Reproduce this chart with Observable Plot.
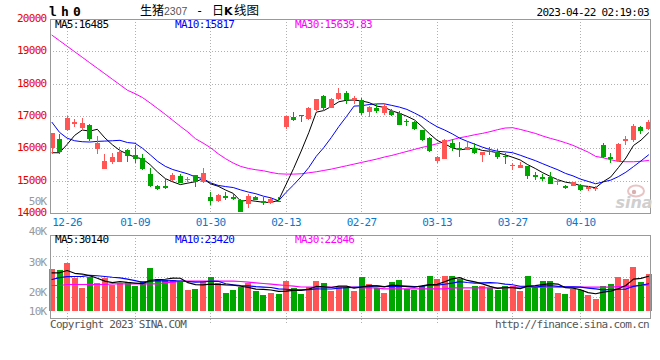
<!DOCTYPE html>
<html><head><meta charset="utf-8">
<script src="https://cdn.jsdelivr.net/npm/d3@7"></script>
<script src="https://cdn.jsdelivr.net/npm/@observablehq/plot@0.6"></script>
<style>
html,body{margin:0;padding:0;background:#fff;}
#chart{position:relative;width:660px;height:360px;overflow:hidden;background:#fff;}
#chart svg{position:absolute;left:0;top:0;max-width:none;}
</style></head><body><div id="chart"></div>
<script>
// ---- data ----
const tickIdx = [2, 11, 21, 31, 41, 51, 61, 70];
const tickLabels = ["12-26","01-09","01-30","02-13","02-27","03-13","03-27","04-10"];
const priceTicks = [20000, 19000, 18000, 17000, 16000, 15000, 14000];
const priceGrid = [15000, 16000, 17000, 18000, 19000];
const volTickValues = [50000, 40000, 30000, 20000];
const volTickLabels = ["50K", "40K", "30K", "20K"];
const volBaseLabel = "10K";
const VOL_BASE = 13870;
const VOL_DOMAIN = [11475, 38690];

const opens = [16024,16292,16582,16767,16644,16737,15993,15373,15580,15590,
15952,15786,15693,15208,14836,14836,15022,15146,15022,15167,
14950,14496,14382,14537,14506,14403,14268,14506,14382,14320,
14382,16674,16984,17015,16912,17191,17624,17253,17521,17707,
17500,17500,17129,17232,17087,17160,17087,16850,16819,16561,
16313,15611,15683,16168,16003,15962,16024,15797,15931,15900,
15745,15446,15404,15466,15167,15105,15105,14960,14847,14847,
14867,14754,14743,16107,15735,15611,16241,16251,16664,16592];
const closes = [16468,15900,16943,16809,16788,16303,16179,15611,15745,15890,
15766,15683,15363,14836,14743,14774,15177,14940,15064,14960,
15239,14382,14568,14475,14444,14031,14527,14413,14320,14423,
14341,17005,16891,16994,17253,17531,17253,17531,17717,17480,
17562,17108,17284,17170,17294,17025,16736,16808,16612,16261,
15910,15724,16261,16003,15951,16044,15848,15900,15879,15724,
15724,15466,15487,15156,15126,15064,14898,14981,14774,14950,
14712,14774,14764,15724,15683,16138,16272,16695,16551,16819];
const highs = [16489,16437,17005,16902,16933,16750,16385,15828,15848,16034,
15972,16107,15817,15384,14867,15074,15229,15208,15126,15188,
15394,14661,14589,14640,14609,14423,14578,14527,14496,14465,
14485,17015,17129,17036,17273,17540,17635,17552,17872,17779,
17624,17552,17315,17356,17356,17211,17160,16901,16860,16571,
16344,15776,16282,16302,16189,16210,16158,15900,16055,15972,
15848,15559,15580,15466,15270,15208,15270,15043,14867,14971,
14888,14847,14836,16169,15869,16179,16385,16768,16706,16891];
const lows = [15817,15828,16551,16654,16571,16241,15817,15360,15528,15580,
15570,15559,15332,14816,14723,14754,15001,14919,14960,14816,
14940,14237,14330,14403,14392,14020,14144,14403,14237,14279,
14330,16612,16860,16829,16881,17170,17170,17232,17500,17376,
17376,17025,16963,17087,17046,17005,16730,16695,16571,16230,
15900,15559,15683,15910,15745,15962,15817,15570,15797,15673,
15508,15342,15384,15064,15022,14991,14898,14867,14754,14826,
14681,14692,14671,15704,15559,15611,16096,16200,16437,16571];
const ma5 = [15879,15879,16137,16416,16582,16549,16604,16338,16125,15946,
15838,15739,15689,15508,15278,15080,14979,14894,14940,14983,
15076,14917,14843,14725,14622,14380,14409,14378,14347,14343,
14405,14900,15396,15931,16497,17135,17184,17312,17457,17502,
17509,17480,17430,17321,17284,17176,17102,17007,16895,16688,
16465,16263,16154,16032,15970,15997,16021,15949,15924,15879,
15815,15739,15656,15511,15392,15260,15146,15045,14969,14933,
14863,14838,14795,14985,15131,15417,15716,16102,16268,16495];
const ma10 = [16819,16509,16330,16250,16220,16210,16230,16240,16250,16264,
16194,16172,16014,15817,15612,15459,15359,15292,15224,15131,
15078,14948,14869,14833,14803,14728,14663,14611,14536,14483,
14393,14655,14887,15139,15420,15770,16042,16354,16694,17000,
17322,17332,17371,17389,17393,17343,17291,17219,17108,16986,
16821,16683,16581,16464,16329,16231,16142,16052,15978,15925,
15906,15880,15803,15718,15636,15538,15443,15351,15240,15163,
15062,14992,14920,14977,15032,15140,15277,15449,15627,15813];
const ma30 = [19514,19344,19174,19003,18833,18662,18492,18322,18151,17981,
17810,17707,17583,17418,17243,17067,16881,16695,16520,16313,
16179,16034,15848,15693,15559,15456,15394,15353,15322,15270,
15229,15218,15218,15228,15259,15290,15332,15373,15425,15476,
15528,15580,15631,15683,15745,15796,15858,15920,15982,16044,
16096,16158,16220,16282,16344,16385,16437,16478,16530,16592,
16643,16654,16602,16540,16478,16396,16324,16262,16189,16107,
16003,15900,15766,15724,15662,15611,15601,15600,15615,15640];
const vols = [27540,27214,29509,24700,21311,24800,23050,24700,22295,23050,
23378,22066,23607,27968,24155,23935,23935,23378,20656,20984,
23705,25017,23050,19780,20656,21738,23050,20426,19115,19780,
19344,23705,21410,19344,21738,23705,22951,20426,21738,21530,
20328,25017,22722,21410,19780,23279,23935,21082,20656,21967,
25345,24263,25345,25345,24155,20656,21967,21967,21410,20656,
21967,21967,20426,25345,21640,23607,23607,19672,19344,21082,
20765,19016,17705,21967,22623,24918,24263,28198,23279,26001];
const vma5 = [26460,26460,27200,26300,26055,25507,24674,23712,23231,23579,
23295,23098,22879,24014,24235,24346,24720,24674,23212,22578,
22532,22748,22682,22507,22442,22048,21655,21130,20997,20822,
20343,20474,20671,20717,21108,21980,21830,21633,22112,22070,
21395,21808,22267,22201,21851,22442,22225,21897,21746,22184,
22597,22663,23515,24453,24891,23953,23494,22818,22031,21331,
21593,21593,21285,22072,22269,22597,22925,22774,21574,21462,
20894,19976,19582,20107,20415,21246,22295,24394,24656,25332];
const vma10 = [24263,24900,25200,25250,25300,25600,25500,25250,25000,24817,
24401,23886,23296,23623,23907,23821,23909,23777,23613,23407,
23439,23734,23678,22860,22510,22290,22202,21906,21752,21632,
21196,21065,20901,20857,20965,21162,21152,21152,21415,21589,
21688,21819,21950,22157,21961,21919,22017,22082,21974,22018,
22520,22444,22706,23100,23538,23275,23079,23167,23242,23111,
22773,22544,22052,22052,21800,22095,22259,22030,21823,21866,
21746,21451,21178,20841,20939,21070,21136,21988,22382,22874];
const vma30 = [22295,22295,22623,22623,22623,22623,22623,22623,22853,22853,
22853,22853,22853,22853,22853,23279,23279,23705,23705,23705,
23705,23705,23705,23705,23705,23600,23378,23160,22951,22730,
22525,22295,22066,21800,21800,21800,21800,21800,21800,21800,
21800,21500,21500,21500,21213,21213,21213,21213,21213,21213,
21213,21213,21213,21500,21500,21500,21500,21500,21500,21500,
21500,21738,21738,21738,21738,21738,21738,21738,21738,21738,
21738,21738,21738,21738,21738,21900,22000,22200,22350,22500];
const mainMaLabels = ["MA5:16485", "MA10:15817", "MA30:15639.83"];
const volMaLabels = ["MA5:30140", "MA10:23420", "MA30:22846"];
const maColors = ["#000000", "#0000ff", "#ff00ff"];
const titleCode = "lh0";
const timeStamp = "2023-04-22 02:19:03";

// ---- build ----
const RED = "#ff5555", GREEN = "#00a600";
const MONO = "DejaVu Sans Mono, monospace";
const N = closes.length;
const candles = d3.range(N).map(i => ({i, o: opens[i], c: closes[i], h: highs[i], l: lows[i], up: closes[i] >= opens[i], v: vols[i]}));
const colorOf = d => d.up ? RED : GREEN;
const xDomain = [-0.2, N - 0.74];
const grid = {stroke: "#b0b0b0", strokeDasharray: "1,2", shapeRendering: "crispEdges"};
const crisp = {shapeRendering: "crispEdges"};
const common = {width: 660, height: 360, marginLeft: 50, marginRight: 10,
  x: {domain: xDomain, axis: null}, color: {type: "identity"},
  style: {background: "transparent", fontFamily: MONO, fontSize: "11px", letterSpacing: "-0.7px", overflow: "visible"}};

const main = Plot.plot({...common, marginTop: 19, marginBottom: 147,
  y: {domain: [14000, 20000], axis: null},
  marks: [
    Plot.ruleY(priceGrid, grid),
    Plot.ruleX(tickIdx, grid),
    Plot.lineY(ma30, {stroke: "#ff00ff", strokeWidth: 1}),
    Plot.lineY(ma10, {stroke: "#0000ff", strokeWidth: 1}),
    Plot.lineY(ma5, {stroke: "#000000", strokeWidth: 1}),
    Plot.ruleX(candles, {x: "i", y1: "l", y2: "h", stroke: colorOf, strokeWidth: 1, ...crisp}),
    Plot.ruleX(candles, {x: "i", y1: d => Math.min(d.o, d.c), y2: d => Math.max(d.o, d.c, Math.min(d.o, d.c) + 35), stroke: colorOf, strokeWidth: 5, ...crisp}),
    Plot.frame({stroke: "#999", ...crisp}),
    Plot.text(priceTicks, {x: () => xDomain[0], y: d => d, text: d => String(d), textAnchor: "end", dx: -4, dy: -1, fill: "#e60000"}),
    Plot.text(tickIdx, {x: d => d, y: () => 14000, text: (d, j) => tickLabels[j], dy: 9, fill: "#0a78cc"})
  ]
});

const vGrid = [1, 2, 3].map(k => VOL_DOMAIN[0] + (VOL_DOMAIN[1] - VOL_DOMAIN[0]) * k / 4);
const vol = Plot.plot({...common, marginTop: 235, marginBottom: 42,
  y: {domain: VOL_DOMAIN, axis: null},
  marks: [
    Plot.ruleY(vGrid, grid),
    Plot.ruleX(tickIdx, {...grid, insetBottom: -7}),
    Plot.ruleX(candles, {x: "i", y1: () => VOL_BASE, y2: "v", stroke: colorOf, strokeWidth: 6, ...crisp}),
    Plot.lineY(vma30, {stroke: "#ff00ff", strokeWidth: 1.2}),
    Plot.lineY(vma10, {stroke: "#0000ff", strokeWidth: 1.2}),
    Plot.lineY(vma5, {stroke: "#000000", strokeWidth: 1.2}),
    Plot.frame({stroke: "#999", ...crisp}),
    Plot.text(volTickValues, {x: () => xDomain[0], y: d => d, text: (d, j) => volTickLabels[j], textAnchor: "end", dx: -4, fill: "#999"}),
    Plot.text([VOL_BASE], {x: () => xDomain[0], y: d => d, text: () => volBaseLabel, textAnchor: "end", dx: -4, fill: "#999"})
  ]
});

// overlay texts
const ov = d3.create("svg").attr("width", 660).attr("height", 360);
function txt(x, y, s, o = {}) {
  return ov.append("text").attr("x", x).attr("y", y)
    .attr("fill", o.fill || "#000").attr("font-size", o.size || 11)
    .attr("font-family", o.family || MONO).attr("text-anchor", o.anchor || "start")
    .attr("font-weight", o.weight || "normal").attr("font-style", o.style || "normal")
    .style("letter-spacing", o.ls !== undefined ? o.ls : "-0.7px").text(s);
}
const CJK = "Noto Sans CJK SC, sans-serif";
txt(49, 16, titleCode, {size: 13, weight: "bold", ls: "4.2px"});
txt(140, 15, "生猪", {size: 12, family: CJK, ls: "0px"});
txt(164, 15, "2307", {size: 10.5, family: "Liberation Sans, Arial, sans-serif", fill: "#555", ls: "0px"});
txt(196, 15, "-", {size: 12, ls: "0px"});
txt(212, 15, "日", {size: 12, family: CJK, ls: "0px"});
txt(224, 15, "K", {size: 11, family: "DejaVu Sans, sans-serif", weight: "bold", ls: "0px"});
txt(234, 15, "线图", {size: 12.5, family: CJK, ls: "0px"});
txt(649, 16, timeStamp, {anchor: "end"});
const maX = [55, 175, 295];
mainMaLabels.forEach((s, k) => txt(maX[k], 27.5, s, {fill: maColors[k]}));
volMaLabels.forEach((s, k) => txt(maX[k], 243, s, {fill: maColors[k]}));
txt(50, 328, "Copyright 2023 SINA.COM", {fill: "#555"});
txt(649, 328, "http://finance.sina.com.cn", {fill: "#555", anchor: "end"});
// watermark
ov.append("ellipse").attr("cx", 636).attr("cy", 191).attr("rx", 8).attr("ry", 5.5)
  .attr("fill", "none").attr("stroke", "#e8c4c4").attr("stroke-width", 2);
ov.append("circle").attr("cx", 634).attr("cy", 192).attr("r", 2.2).attr("fill", "#d8b0b0");
txt(634, 208, "sina", {size: 16, family: "DejaVu Sans, sans-serif", weight: "bold", style: "italic", fill: "#cfcfcf", anchor: "middle", ls: "0px"});

const root = document.getElementById("chart");
root.appendChild(vol);
root.appendChild(main);
root.appendChild(ov.node());
</script>
</body></html>
